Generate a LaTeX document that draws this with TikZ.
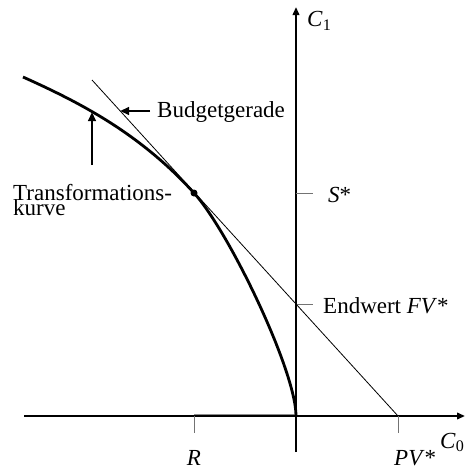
\documentclass[tikz,border=0pt]{standalone}
\usepackage{fontspec}
\setmainfont{Liberation Serif}
\usetikzlibrary{arrows.meta}
\begin{document}
\begin{tikzpicture}[x=1pt,y=-1pt,
  axis/.style={line width=2.2pt,-{Triangle[length=8pt,width=6.5pt]}},
  tickmark/.style={draw=black!55,line width=1pt},
  lbl/.style={inner sep=0pt,font=\fontsize{23}{14}\selectfont},
  curve/.style={line width=2.8pt},
  budget/.style={line width=0.8pt},
  pointer/.style={line width=2.8pt,-{Triangle[length=9pt,width=7.5pt]}}]
\useasboundingbox (0,0) rectangle (465,471);
% axes
\coordinate (O) at (296,416);
\coordinate (xs) at (24,416);
\coordinate (xe) at (465,416);
\coordinate (ys) at (296,452);
\coordinate (ye) at (296,7);
\coordinate (R) at (194,416);
\coordinate (PV) at (398,416);
\coordinate (S) at (296,193);
\coordinate (FV) at (296,304);
\draw[draw=black!45,line width=1.6pt] ([yshift=1.6pt]R) -- ([yshift=1.6pt]O);
\draw[axis] (xs) -- (xe);
\draw[axis] (ys) -- (ye);
% ticks
\draw[tickmark] (R) -- ++(0,17);
\draw[tickmark] (PV) -- ++(0,17);
\draw[tickmark] (S) -- ++(17,0);
\draw[tickmark] (FV) -- ++(17,0);
% budget line
\coordinate (B1) at (92,80);
\draw[budget] (B1) -- (PV);
% transformation curve
\coordinate (D) at (194,193);
\coordinate (E) at (23,77);
\draw[curve] (O) .. controls (296,371) and (229,231.5) .. (D)
  .. controls (139,132.4) and (78,101.75) .. (E);
\node[circle,fill,inner sep=0pt,minimum size=7pt] (dot) at (D) {};
% labels
\node[lbl,anchor=base west] (c1) at (307,27) {\textit{C}\textsubscript{1}};
\node[lbl,anchor=base west] (c0) at (440,448) {\textit{C}\textsubscript{0}};
\node[lbl,anchor=base west] (sl) at (328,202) {\textit{S}*};
\node[lbl,anchor=base west] (fvl) at (323,313) {Endwert \textit{FV}*};
\node[lbl,anchor=base] (rl) at (194,465) {\textit{R}};
\node[lbl,anchor=base west] (pvl) at (394,465) {\textit{PV}*};
\node[lbl,anchor=base west] (bg) at (157,117) {Budgetgerade};
\node[lbl,anchor=base west] (tk1) at (13,200) {Transformations-};
\node[lbl,anchor=base west] (tk2) at (13,215) {kurve};
% pointers
\coordinate (bgtip) at (120,111);
\coordinate (bgstart) at (150,111);
\draw[pointer] (bgstart) -- (bgtip);
\coordinate (tktip) at (92,112);
\coordinate (tkstart) at (92,165);
\draw[pointer] (tkstart) -- (tktip);
\end{tikzpicture}
\end{document}
